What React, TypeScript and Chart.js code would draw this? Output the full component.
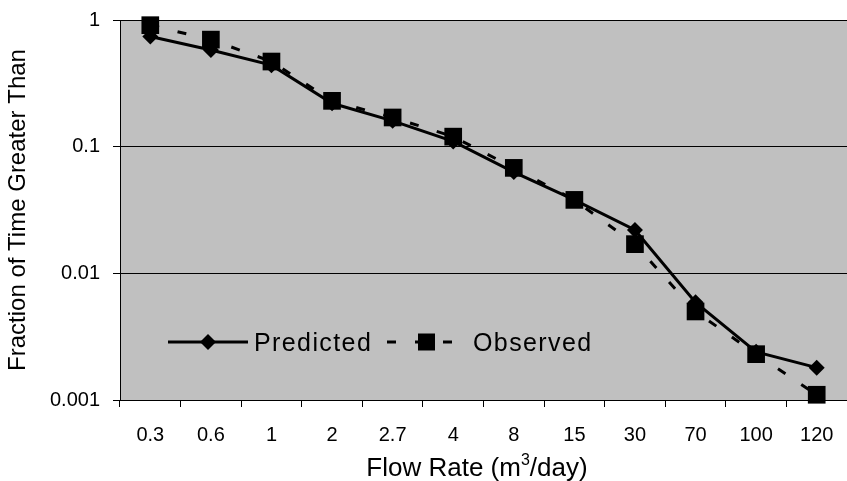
import React, { useEffect, useRef } from "react";
import { Chart, registerables } from "chart.js";

Chart.register(...registerables);

// Flow-duration data: fraction of time the flow exceeds each rate
const flowRates = ["0.3", "0.6", "1", "2", "2.7", "4", "8", "15", "30", "70", "100", "120"];
const predicted = [0.74, 0.58, 0.44, 0.22, 0.16, 0.11, 0.063, 0.038, 0.022, 0.0059, 0.0024, 0.0018];
const observed = [0.91, 0.7, 0.47, 0.23, 0.17, 0.12, 0.068, 0.038, 0.017, 0.005, 0.0023, 0.0011];
const yTicks = [1, 0.1, 0.01, 0.001];

const FONT = "Arial, 'Liberation Sans', sans-serif";
const PLOT_BG = "#c0c0c0";

// grey plot background
const plotBackground = {
  id: "plotBackground",
  beforeDraw(chart: any) {
    const { ctx, chartArea: a } = chart;
    ctx.save();
    ctx.fillStyle = PLOT_BG;
    ctx.fillRect(a.left, a.top, a.right - a.left, a.bottom - a.top);
    ctx.restore();
  },
};

// x-axis title with a real superscript on the unit
const xAxisTitle = {
  id: "xAxisTitle",
  afterDraw(chart: any) {
    const { ctx } = chart;
    const parts = [
      { text: "Flow Rate (m", size: 26, rise: 0 },
      { text: "3", size: 16, rise: 11 },
      { text: "/day)", size: 26, rise: 0 },
    ];
    ctx.save();
    ctx.fillStyle = "#000";
    ctx.textBaseline = "alphabetic";
    ctx.textAlign = "left";
    let total = 0;
    const widths = parts.map((p) => {
      ctx.font = `${p.size}px ${FONT}`;
      const w = ctx.measureText(p.text).width;
      total += w;
      return w;
    });
    let x = 477 - total / 2;
    const baseline = 476;
    parts.forEach((p, i) => {
      ctx.font = `${p.size}px ${FONT}`;
      ctx.fillText(p.text, x, baseline - p.rise);
      x += widths[i];
    });
    ctx.restore();
  },
};

// legend drawn inside the plot area, lower left
const insideLegend = {
  id: "insideLegend",
  afterDatasetsDraw(chart: any) {
    const { ctx } = chart;
    const y = 342;
    ctx.save();
    ctx.strokeStyle = "#000";
    ctx.fillStyle = "#000";
    ctx.lineWidth = 3;

    // Predicted: solid line with diamond
    ctx.beginPath();
    ctx.moveTo(168, y);
    ctx.lineTo(248, y);
    ctx.stroke();
    ctx.beginPath();
    ctx.moveTo(208, y - 8);
    ctx.lineTo(216, y);
    ctx.lineTo(208, y + 8);
    ctx.lineTo(200, y);
    ctx.closePath();
    ctx.fill();

    // Observed: dashed line with square
    ctx.setLineDash([9, 19]);
    ctx.beginPath();
    ctx.moveTo(387, y);
    ctx.lineTo(452, y);
    ctx.stroke();
    ctx.setLineDash([]);
    ctx.fillRect(418, y - 8.5, 17, 17);

    ctx.font = `25px ${FONT}`;
    if ("letterSpacing" in ctx) (ctx as any).letterSpacing = "1.4px";
    ctx.textBaseline = "alphabetic";
    ctx.textAlign = "left";
    ctx.fillText("Predicted", 254, y + 9);
    ctx.fillText("Observed", 473, y + 9);
    ctx.restore();
  },
};

export default function App() {
  const canvasRef = useRef<HTMLCanvasElement | null>(null);

  useEffect(() => {
    const canvas = canvasRef.current;
    if (!canvas) return;
    const chart = new Chart(canvas, {
      type: "line",
      data: {
        labels: flowRates,
        datasets: [
          {
            label: "Observed",
            data: observed,
            borderColor: "#000",
            backgroundColor: "#000",
            borderWidth: 3,
            borderDash: [9, 19],
            pointStyle: "rect",
            pointRadius: 12.5,
            pointHoverRadius: 12.5,
            pointBorderWidth: 0,
            tension: 0,
            clip: false,
          },
          {
            label: "Predicted",
            data: predicted,
            borderColor: "#000",
            backgroundColor: "#000",
            borderWidth: 3,
            pointStyle: "rectRot",
            pointRadius: 8,
            pointHoverRadius: 8,
            pointBorderWidth: 0,
            tension: 0,
            clip: false,
          },
        ],
      },
      options: {
        responsive: false,
        animation: false,
        events: [],
        layout: { autoPadding: false, padding: { top: 20, left: 0, right: 0, bottom: 0 } },
        plugins: {
          legend: { display: false },
          tooltip: { enabled: false },
        },
        scales: {
          x: {
            type: "category",
            offset: true,
            afterFit(scale: any) {
              scale.height = 81;
              scale.paddingLeft = 0;
              scale.paddingRight = 0;
            },
            border: { display: true, color: "#000", width: 1 },
            grid: {
              display: true,
              offset: true,
              drawOnChartArea: false,
              drawTicks: true,
              tickLength: 7,
              color: "#000",
            },
            ticks: {
              color: "#000",
              font: { family: FONT, size: 20 },
              padding: 16,
              maxRotation: 0,
              autoSkip: false,
            },
            title: { display: false },
          },
          y: {
            type: "logarithmic",
            min: 0.001,
            max: 1,
            afterFit(scale: any) {
              scale.width = 120;
              scale.paddingTop = 0;
              scale.paddingBottom = 0;
            },
            afterBuildTicks(scale: any) {
              scale.ticks = yTicks.map((v) => ({ value: v }));
            },
            border: { display: true, color: "#000", width: 1 },
            grid: {
              display: true,
              drawOnChartArea: true,
              drawTicks: true,
              tickLength: 7,
              color: "#000",
            },
            ticks: {
              color: "#000",
              font: { family: FONT, size: 20 },
              padding: 13,
              callback: (v: any) => String(v),
            },
            title: {
              display: true,
              text: "Fraction of Time Greater Than",
              color: "#000",
              font: { family: FONT, size: 24 },
              padding: { top: 4, bottom: 0 },
            },
          },
        },
      },
      plugins: [plotBackground, insideLegend, xAxisTitle],
    });
    return () => chart.destroy();
  }, []);

  return (
    <div style={{ position: "fixed", left: 0, top: 0, width: 847, height: 481, background: "#fff" }}>
      <canvas ref={canvasRef} width={847} height={481} style={{ width: 847, height: 481, display: "block" }} />
    </div>
  );
}
